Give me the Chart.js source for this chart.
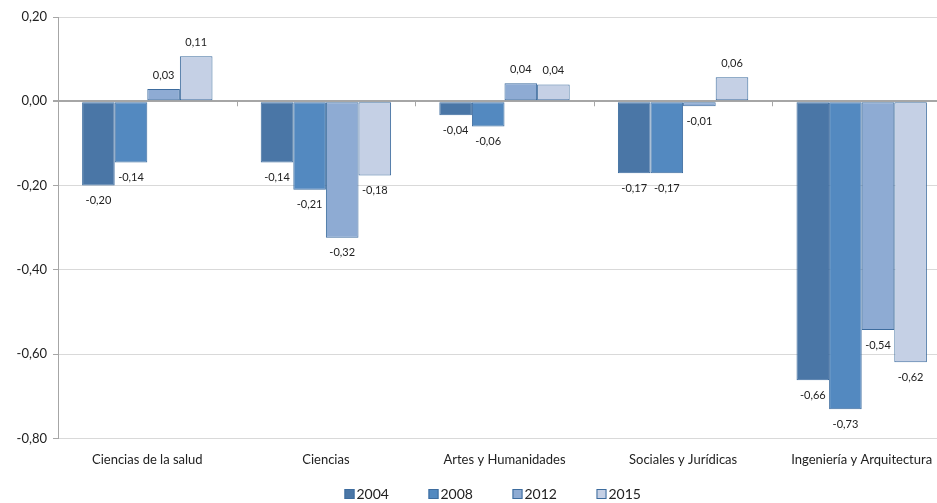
<!DOCTYPE html>
<html>
<head>
<meta charset="utf-8">
<script src="https://cdn.jsdelivr.net/npm/chart.js@4/dist/chart.umd.min.js"></script>
<style>
  html, body { margin: 0; padding: 0; background: #fff; overflow: hidden; }
  #wrap { width: 937px; height: 503px; overflow: hidden; }
</style>
</head>
<body>
<div id="wrap"><canvas id="grafico" width="951" height="503"></canvas></div>
<script>
// Datos
const ramas = ['Ciencias de la salud', 'Ciencias', 'Artes y Humanidades', 'Sociales y Jurídicas', 'Ingeniería y Arquitectura'];
const valores2004 = [-0.20, -0.145, -0.033, -0.171, -0.662];
const valores2008 = [-0.145, -0.21, -0.06, -0.171, -0.731];
const valores2012 = [0.029, -0.324, 0.043, -0.012, -0.543];
const valores2015 = [0.107, -0.176, 0.040, 0.057, -0.619];
const etiquetas2004 = ['-0,20', '-0,14', '-0,04', '-0,17', '-0,66'];
const etiquetas2008 = ['-0,14', '-0,21', '-0,06', '-0,17', '-0,73'];
const etiquetas2012 = ['0,03', '-0,32', '0,04', '-0,01', '-0,54'];
const etiquetas2015 = ['0,11', '-0,18', '0,04', '0,06', '-0,62'];
const ticksY = [0.2, 0, -0.2, -0.4, -0.6, -0.8];

const fuente = 'Lato, "Open Sans", sans-serif';

function serie(nombre, datos, etiquetas, color) {
    return {
        label: nombre,
        data: datos,
        etiquetas: etiquetas,
        backgroundColor: color,
        borderColor: '#3d6c9e',
        borderWidth: 1,
        borderSkipped: false,
        categoryPercentage: 0.73,
        barPercentage: 1.0
    };
}

// Plugin para etiquetas de datos, marcas del eje en cero y leyenda
const etiquetasPlugin = {
    id: 'etiquetas',
    afterDatasetsDraw(chart) {
        const ctx = chart.ctx;
        const yScale = chart.scales.y;
        const xScale = chart.scales.x;
        const y0 = yScale.getPixelForValue(0);

        // marcas pequeñas entre categorías
        ctx.save();
        ctx.strokeStyle = '#a6a6a6';
        ctx.lineWidth = 1;
        for (let i = 1; i < ramas.length; i++) {
            const x = Math.round((xScale.getPixelForValue(i - 1) + xScale.getPixelForValue(i)) / 2) + 0.5;
            ctx.beginPath();
            ctx.moveTo(x, y0);
            ctx.lineTo(x, y0 + 5);
            ctx.stroke();
        }
        ctx.restore();

        ctx.save();
        ctx.font = '11px ' + fuente;
        ctx.fillStyle = '#222';
        ctx.textAlign = 'center';
        ctx.textBaseline = 'middle';
        chart.data.datasets.forEach((ds, i) => {
            const meta = chart.getDatasetMeta(i);
            meta.data.forEach((barra, j) => {
                const v = ds.data[j];
                const y = v >= 0 ? barra.y - 14 : barra.y + 15;
                ctx.fillText(ds.etiquetas[j], barra.x, y);
            });
        });
        ctx.restore();
    },
    afterDraw(chart) {
        // leyenda abajo, centrada en la parte visible (937 px)
        const ctx = chart.ctx;
        const paso = 84;
        const n = chart.data.datasets.length;
        const x0 = 937 / 2 - (paso * n) / 2 + 44;
        const y = 494;
        ctx.save();
        ctx.font = '14px ' + fuente;
        ctx.textBaseline = 'middle';
        ctx.textAlign = 'left';
        chart.data.datasets.forEach((ds, i) => {
            const x = x0 + i * paso;
            ctx.fillStyle = ds.backgroundColor;
            ctx.fillRect(x, y - 5, 10, 10);
            ctx.strokeStyle = ds.borderColor;
            ctx.lineWidth = 1;
            ctx.strokeRect(x + 0.5, y - 4.5, 9, 9);
            ctx.fillStyle = '#222';
            ctx.fillText(ds.label, x + 12, y);
        });
        ctx.restore();
    }
};

const ctx = document.getElementById('grafico').getContext('2d');
const grafico = new Chart(ctx, {
    type: 'bar',
    data: {
        labels: ramas,
        datasets: [
            serie('2004', valores2004, etiquetas2004, '#4a76a6'),
            serie('2008', valores2008, etiquetas2008, '#5389c0'),
            serie('2012', valores2012, etiquetas2012, '#8eabd3'),
            serie('2015', valores2015, etiquetas2015, '#c5d0e5')
        ]
    },
    options: {
        responsive: false,
        animation: false,
        layout: { padding: { top: 17, right: 0, left: 0, bottom: 29 } },
        plugins: {
            legend: { display: false },
            tooltip: { enabled: false }
        },
        scales: {
            x: {
                grid: { display: false },
                border: { display: false },
                ticks: {
                    color: '#222',
                    padding: 6,
                    font: { family: fuente, size: 13 },
                    maxRotation: 0
                }
            },
            y: {
                min: -0.8,
                max: 0.2,
                afterFit: (scale) => { scale.width = 58; },
                afterBuildTicks: (scale) => { scale.ticks = ticksY.map(v => ({ value: v })); },
                grid: {
                    color: (c) => (c.tick && c.tick.value === 0 ? '#a6a6a6' : '#d9d9d9'),
                    lineWidth: (c) => (c.tick && c.tick.value === 0 ? 2 : 1),
                    tickColor: '#a6a6a6',
                    tickLength: 5
                },
                border: { color: '#a6a6a6', width: 1 },
                ticks: {
                    color: '#222',
                    padding: 6,
                    font: { family: fuente, size: 13 },
                    callback: (v) => v.toFixed(2).replace('.', ',')
                }
            }
        }
    },
    plugins: [etiquetasPlugin]
});
</script>
</body>
</html>
